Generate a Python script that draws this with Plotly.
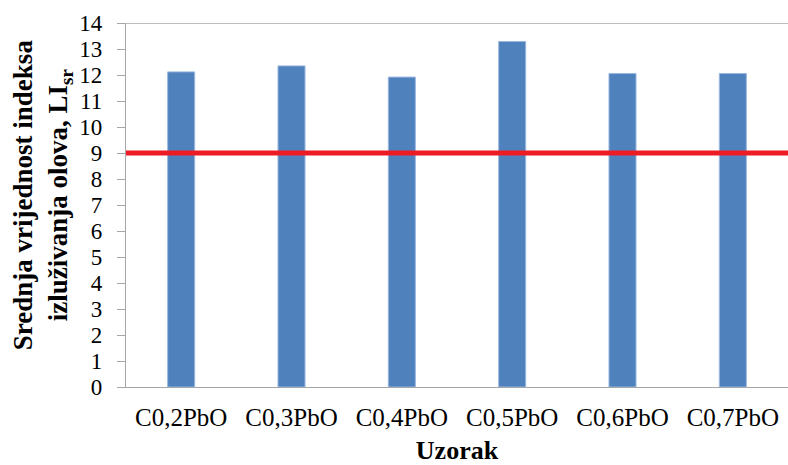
import plotly.graph_objects as go

categories = ["C0,2PbO", "C0,3PbO", "C0,4PbO", "C0,5PbO", "C0,6PbO", "C0,7PbO"]
values = [12.12, 12.35, 11.92, 13.29, 12.06, 12.06]
limit_value = 9
y_ticks = list(range(0, 15))

FONT = "Liberation Serif, Times New Roman, serif"
AXIS_GRAY = "#A6A6A6"

fig = go.Figure()
fig.add_trace(go.Bar(
    x=categories, y=values,
    marker=dict(color="#4F81BD", line=dict(color="#9AB8E0", width=1)),
    showlegend=False,
))

fig.add_shape(type="line", xref="paper", x0=0, x1=1, yref="y", y0=limit_value, y1=limit_value,
              line=dict(color="#ED1C24", width=5), layer="above")
fig.add_shape(type="line", xref="paper", x0=0, x1=1, yref="y", y0=14, y1=14,
              line=dict(color=AXIS_GRAY, width=1.3), layer="below")

fig.add_annotation(
    text="<b>Srednja vrijednost indeksa<br>izluživanja olova, LI<sub>sr</sub></b>",
    xref="paper", yref="paper", x=(42 - 126) / 662, y=0.527,
    xanchor="center", yanchor="middle", textangle=-90, showarrow=False,
    font=dict(family=FONT, size=27, color="black"),
)

fig.update_layout(
    width=788, height=465,
    margin=dict(l=126, r=0, t=23, b=78),
    paper_bgcolor="white", plot_bgcolor="white",
    bargap=0.755,
    font=dict(family=FONT, color="black"),
    xaxis=dict(
        title=dict(text="<b>Uzorak</b>", font=dict(family=FONT, size=26, color="black"), standoff=10),
        tickfont=dict(family=FONT, size=25, color="black"),
        ticklabelstandoff=8,
        showline=True, linecolor=AXIS_GRAY, linewidth=1.3,
        ticks="", showgrid=False,
    ),
    yaxis=dict(
        range=[0, 14], tickvals=y_ticks, ticktext=[str(v) for v in y_ticks],
        tickfont=dict(family=FONT, size=23, color="black"),
        ticklabelstandoff=10,
        showline=True, linecolor=AXIS_GRAY, linewidth=1.3,
        ticks="outside", ticklen=8, tickcolor=AXIS_GRAY, tickwidth=1.3,
        showgrid=False, zeroline=False,
    ),
)

fig.write_html("out.html", config={"displayModeBar": False},
               post_script="document.body.style.margin='0';document.body.style.overflow='hidden';")
